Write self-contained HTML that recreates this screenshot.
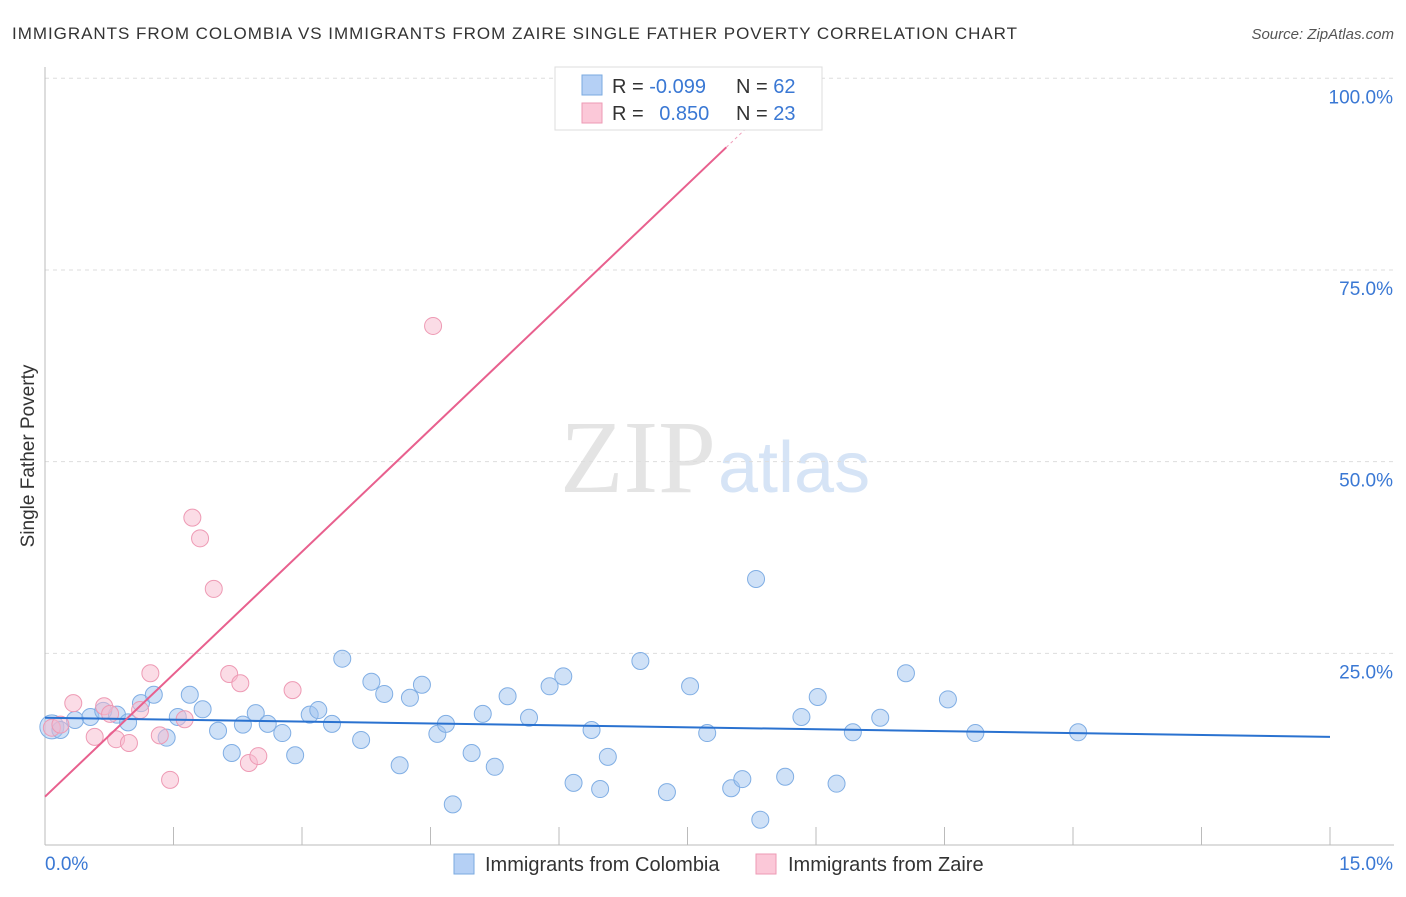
<!DOCTYPE html>
<html><head><meta charset="utf-8"><style>
body{margin:0;background:#fff;font-family:"Liberation Sans",sans-serif;}
</style></head><body>
<svg id="c" width="1406" height="892" xmlns="http://www.w3.org/2000/svg" style="font-family:'Liberation Sans',sans-serif">
<text x="12" y="39" font-size="17" fill="#333" textLength="1005" lengthAdjust="spacing">IMMIGRANTS FROM COLOMBIA VS IMMIGRANTS FROM ZAIRE SINGLE FATHER POVERTY CORRELATION CHART</text>
<text x="1394" y="39" font-size="15" fill="#555" text-anchor="end" font-style="italic">Source: ZipAtlas.com</text>
<text x="716" y="492" font-size="104" fill="#e4e4e4" text-anchor="end" font-family="Liberation Serif">ZIP</text>
<text x="718" y="492" font-size="72" fill="#d6e4f6">atlas</text>
<text transform="translate(34,456) rotate(-90)" font-size="19" fill="#333" text-anchor="middle">Single Father Poverty</text>
<g id="grid"></g><g id="pts"></g><g id="lines"></g>
<g>
<rect x="555" y="67" width="267" height="63" fill="#fff" stroke="#ddd"/>
<rect x="582" y="75" width="20" height="20" fill="#b5d0f5" stroke="#7aaae0"/>
<rect x="582" y="103" width="20" height="20" fill="#fbc8d8" stroke="#ee9ab4"/>
<text x="612" y="93" font-size="20" fill="#333">R = <tspan fill="#3a78d4">-0.099</tspan></text>
<text x="736" y="93" font-size="20" fill="#333">N = <tspan fill="#3a78d4">62</tspan></text>
<text x="612" y="120" font-size="20" fill="#333">R = <tspan fill="#3a78d4" dx="10">0.850</tspan></text>
<text x="736" y="120" font-size="20" fill="#333">N = <tspan fill="#3a78d4">23</tspan></text>
</g>
<g>
<rect x="454" y="854" width="20" height="20" fill="#b5d0f5" stroke="#7aaae0"/>
<text x="485" y="871" font-size="20" fill="#333">Immigrants from Colombia</text>
<rect x="756" y="854" width="20" height="20" fill="#fbc8d8" stroke="#ee9ab4"/>
<text x="788" y="871" font-size="20" fill="#333">Immigrants from Zaire</text>
</g>
</svg>
<script>
const yTicks=[100,75,50,25];
const yTickLabels=["100.0%","75.0%","50.0%","25.0%"];
const xMin=0,xMax=15;
const blueX=[0.08,0.18,0.35,0.53,0.68,0.84,0.97,1.12,1.27,1.42,1.55,1.69,1.84,2.02,2.18,2.31,2.46,2.60,2.77,2.92,3.09,3.19,3.35,3.47,3.69,3.81,3.96,4.14,4.26,4.40,4.58,4.68,4.76,4.98,5.11,5.25,5.40,5.65,5.89,6.05,6.17,6.38,6.48,6.57,6.95,7.26,7.53,7.73,8.01,8.14,8.30,8.35,8.64,8.83,9.02,9.24,9.43,9.75,10.05,10.54,10.86,12.06];
const blueY=[15.4,15.0,16.3,16.7,17.5,17.0,16.0,18.5,19.6,14.0,16.7,19.6,17.7,14.9,12.0,15.7,17.2,15.8,14.6,11.7,17.0,17.6,15.8,24.3,13.7,21.3,19.7,10.4,19.2,20.9,14.5,15.8,5.3,12.0,17.1,10.2,19.4,16.6,20.7,22.0,8.1,15.0,7.3,11.5,24.0,6.9,20.7,14.6,7.4,8.6,34.7,3.3,8.9,16.7,19.3,8.0,14.7,16.6,22.4,19.0,14.6,14.7];
const pinkX=[0.08,0.18,0.33,0.58,0.69,0.76,0.83,0.98,1.11,1.23,1.34,1.46,1.63,1.72,1.81,1.97,2.15,2.28,2.38,2.49,2.89,4.53,8.21];
const pinkY=[15.3,15.7,18.5,14.1,18.1,17.1,13.8,13.3,17.6,22.4,14.3,8.5,16.4,42.7,40.0,33.4,22.3,21.1,10.7,11.6,20.2,67.7,99.8];
const blueTrend=[16.6,14.1];
const pinkTrend=[6.3,10.65];
const NS="http://www.w3.org/2000/svg";
const X=v=>45+(v-xMin)/(xMax-xMin)*1285;
const Y=v=>845-v*7.667;
function mk(t,a,p){const e=document.createElementNS(NS,t);for(const k in a)e.setAttribute(k,a[k]);p.appendChild(e);return e;}
const g=document.getElementById('grid');
yTicks.forEach((t,i)=>{
 const l=mk('line',{x1:45,x2:1394,y1:Y(t),y2:Y(t),stroke:'#ddd','stroke-dasharray':'4,4'},g);
 
 
 const tx=mk('text',{x:1393,y:Y(t)+25,'font-size':19,fill:'#3a78d4','text-anchor':'end'},g);
 tx.textContent=yTickLabels[i];
 
 
});
mk('line',{x1:45,x2:45,y1:67,y2:845,stroke:'#bbb'},g);
mk('line',{x1:45,x2:1394,y1:845,y2:845,stroke:'#bbb'},g);
for(let i=0;i<=10;i++){mk('line',{x1:X(i*1.5),x2:X(i*1.5),y1:827,y2:845,stroke:'#bbb'},g);}
const t0=mk('text',{x:45,y:870,'font-size':19,fill:'#3a78d4'},g);t0.textContent='0.0%';


const t1=mk('text',{x:1393,y:870,'font-size':19,fill:'#3a78d4','text-anchor':'end'},g);t1.textContent='15.0%';


const P=document.getElementById('pts');
blueX.forEach((x,i)=>{const c=mk('circle',{cx:X(x),cy:Y(blueY[i]),r:i==0?12:8.5,fill:'rgba(160,195,240,0.5)',stroke:'#80aee4','stroke-width':1},P);
 
 });
pinkX.forEach((x,i)=>{const c=mk('circle',{cx:X(x),cy:Y(pinkY[i]),r:8.5,fill:'rgba(248,185,205,0.5)',stroke:'#ee9ab4','stroke-width':1},P);
 
 });
const L=document.getElementById('lines');
const bl=mk('line',{x1:X(0),y1:Y(blueTrend[0]),x2:X(15),y2:Y(blueTrend[1]),stroke:'#2a72d0','stroke-width':2},L);


const xe=(91-pinkTrend[0])/pinkTrend[1];
const pl=mk('line',{x1:X(0),y1:Y(pinkTrend[0]),x2:X(xe),y2:Y(pinkTrend[0]+pinkTrend[1]*xe),stroke:'#e8608e','stroke-width':2},L);


const xe2=(100-pinkTrend[0])/pinkTrend[1];
mk('line',{x1:X(xe),y1:Y(pinkTrend[0]+pinkTrend[1]*xe),x2:X(xe2),y2:Y(100),stroke:'#f0a0bb','stroke-width':1,'stroke-dasharray':'3,3'},L);
</script>
</body></html>
